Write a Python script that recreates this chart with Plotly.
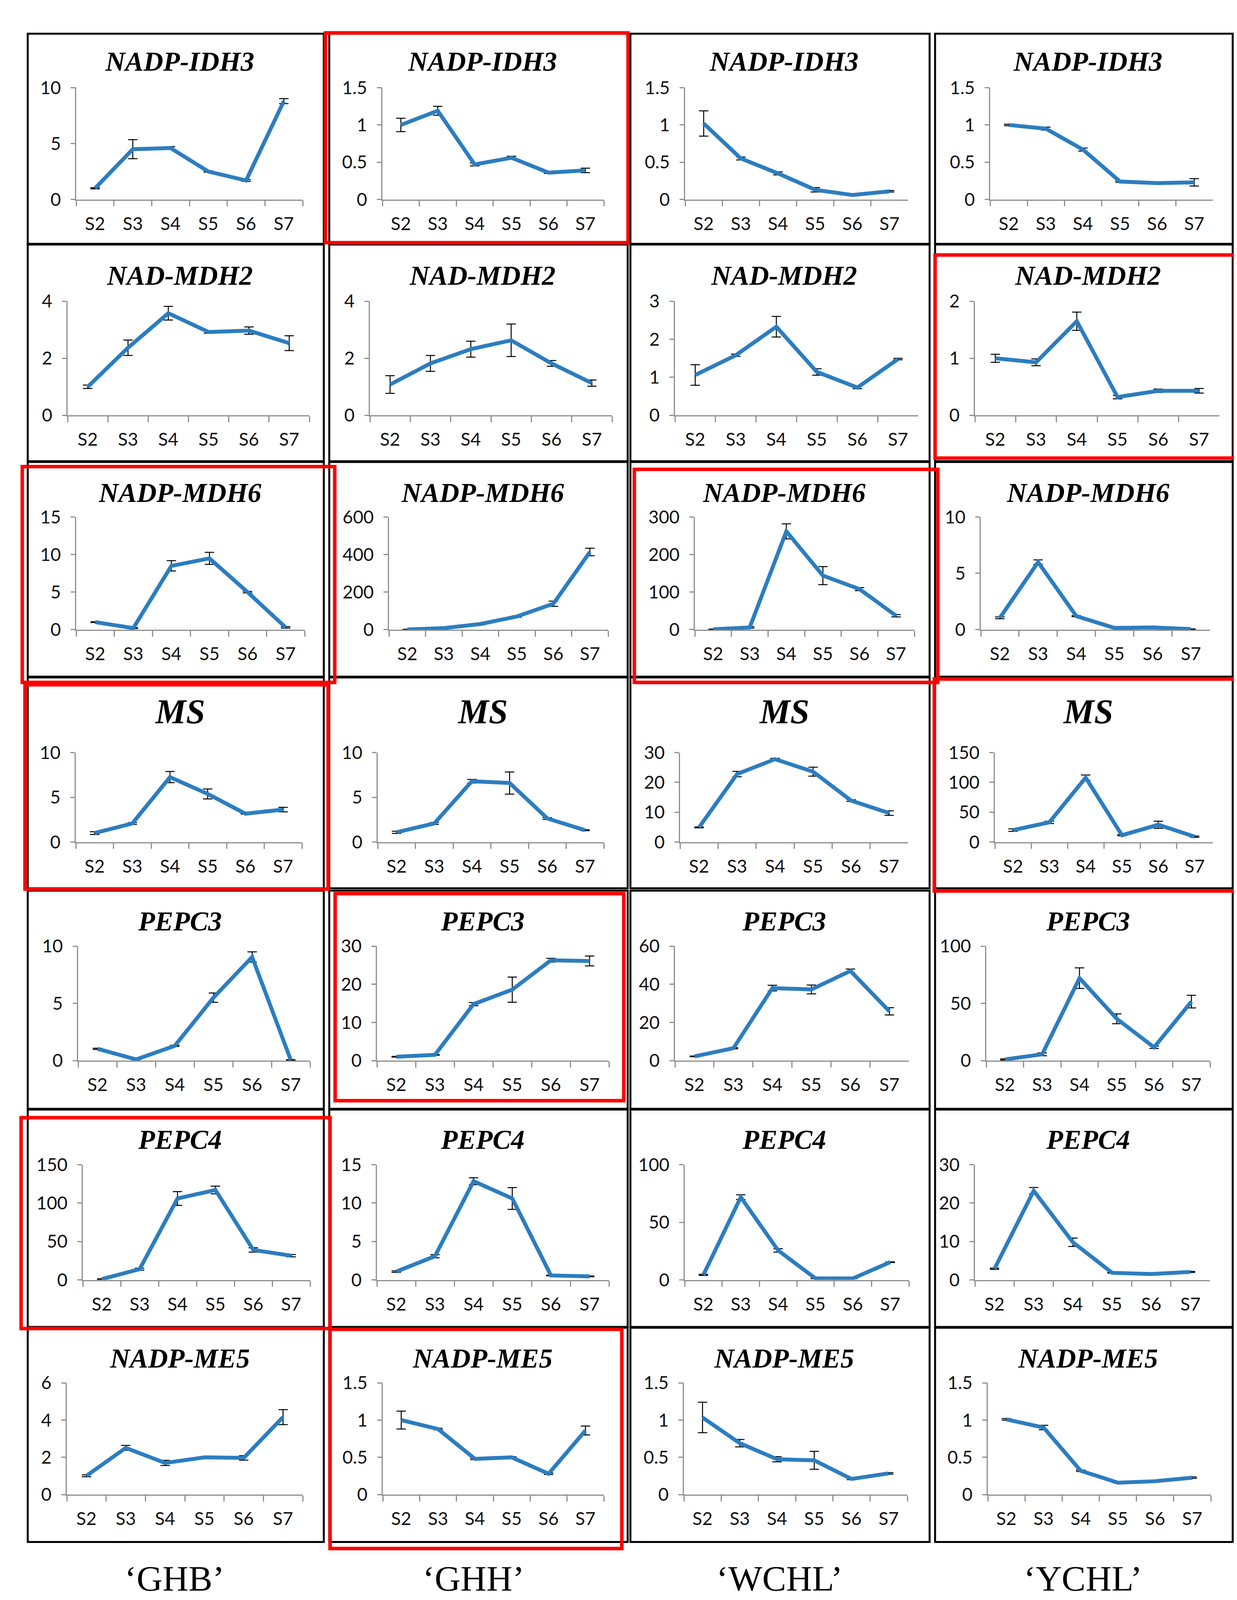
import numpy as np
import plotly.graph_objects as go

# ---------------- DATA ----------------
stages = ["S2", "S3", "S4", "S5", "S6", "S7"]
cultivars = ["‘GHB’", "‘GHH’", "‘WCHL’", "‘YCHL’"]
genes = ["NADP-IDH3", "NAD-MDH2", "NADP-MDH6", "MS", "PEPC3", "PEPC4", "NADP-ME5"]

# mean relative expression, one list per cultivar (GHB, GHH, WCHL, YCHL)
idh3_mean = [[1.0, 4.5, 4.6, 2.5, 1.7, 8.8],
             [1.0, 1.19, 0.47, 0.56, 0.36, 0.39],
             [1.02, 0.55, 0.35, 0.13, 0.06, 0.11],
             [1.0, 0.95, 0.67, 0.24, 0.22, 0.23]]
idh3_err = [[0.05, 0.85, 0.12, 0.06, 0.08, 0.22],
            [0.09, 0.06, 0.02, 0.02, 0.01, 0.03],
            [0.17, 0.02, 0.02, 0.03, 0.005, 0.01],
            [0.01, 0.02, 0.02, 0.01, 0.005, 0.05]]

mdh2_mean = [[1.0, 2.37, 3.58, 2.92, 2.97, 2.53],
             [1.08, 1.82, 2.32, 2.63, 1.82, 1.13],
             [1.06, 1.58, 2.33, 1.14, 0.73, 1.48],
             [1.0, 0.93, 1.65, 0.32, 0.43, 0.43]]
mdh2_err = [[0.06, 0.27, 0.24, 0.04, 0.13, 0.26],
            [0.31, 0.28, 0.28, 0.57, 0.1, 0.11],
            [0.27, 0.03, 0.27, 0.085, 0.03, 0.02],
            [0.07, 0.06, 0.16, 0.03, 0.03, 0.04]]

mdh6_mean = [[1.0, 0.2, 8.5, 9.5, 5.0, 0.3],
             [1.0, 8.0, 30.0, 70.0, 138.0, 414.0],
             [1.0, 6.0, 262.0, 144.0, 108.0, 37.0],
             [1.05, 6.0, 1.2, 0.15, 0.2, 0.05]]
mdh6_err = [[0.05, 0.05, 0.69, 0.8, 0.1, 0.1],
            [1.0, 2.0, 4.0, 4.0, 14.0, 20.0],
            [0.5, 2.0, 20.0, 24.0, 4.0, 3.0],
            [0.08, 0.2, 0.05, 0.02, 0.02, 0.02]]

ms_mean = [[1.0, 2.08, 7.26, 5.38, 3.17, 3.63],
           [1.09, 2.08, 6.8, 6.6, 2.64, 1.32],
           [4.9, 22.8, 27.8, 23.6, 13.9, 9.7],
           [20.0, 33.0, 108.0, 11.5, 29.0, 9.0]]
ms_err = [[0.15, 0.1, 0.63, 0.56, 0.05, 0.25],
          [0.12, 0.1, 0.2, 1.24, 0.1, 0.05],
          [0.15, 0.9, 0.3, 1.5, 0.3, 0.75],
          [2.0, 2.0, 4.5, 1.0, 6.0, 1.0]]

pepc3_mean = [[1.03, 0.1, 1.29, 5.5, 9.05, 0.05],
              [1.0, 1.5, 14.8, 18.6, 26.3, 26.1],
              [2.2, 6.5, 38.0, 37.3, 47.0, 25.8],
              [1.0, 5.5, 72.0, 36.5, 11.6, 51.5]]
pepc3_err = [[0.05, 0.03, 0.05, 0.41, 0.45, 0.03],
             [0.1, 0.1, 0.4, 3.3, 0.5, 1.3],
             [0.2, 0.3, 1.5, 2.3, 1.0, 1.9],
             [0.5, 1.3, 9.0, 4.3, 1.0, 5.5]]

pepc4_mean = [[1.0, 14.0, 106.0, 117.0, 39.0, 31.5],
              [1.08, 3.08, 12.85, 10.6, 0.58, 0.46],
              [4.4, 71.8, 25.6, 1.3, 1.3, 15.4],
              [2.9, 23.2, 9.8, 1.85, 1.54, 2.08]]
pepc4_err = [[0.5, 1.3, 9.0, 5.0, 2.9, 1.5],
             [0.1, 0.2, 0.45, 1.42, 0.05, 0.05],
             [0.5, 2.0, 1.5, 0.2, 0.2, 0.3],
             [0.15, 0.85, 1.1, 0.1, 0.1, 0.15]]

me5_mean = [[1.01, 2.51, 1.7, 2.0, 1.97, 4.16],
            [1.0, 0.88, 0.48, 0.5, 0.28, 0.86],
            [1.035, 0.69, 0.475, 0.46, 0.21, 0.285],
            [1.01, 0.9, 0.32, 0.16, 0.18, 0.227]]
me5_err = [[0.05, 0.13, 0.14, 0.03, 0.12, 0.4],
           [0.12, 0.01, 0.01, 0.01, 0.01, 0.06],
           [0.205, 0.05, 0.035, 0.12, 0.01, 0.01],
           [0.01, 0.03, 0.01, 0.005, 0.005, 0.01]]

# y-axis maximum and tick step for each gene (per cultivar)
y_max = [[10, 1.5, 1.5, 1.5],
         [4, 4, 3, 2],
         [15, 600, 300, 10],
         [10, 10, 30, 150],
         [10, 30, 60, 100],
         [150, 15, 100, 30],
         [6, 1.5, 1.5, 1.5]]
y_step = [[5, 0.5, 0.5, 0.5],
          [2, 2, 1, 1],
          [5, 200, 100, 5],
          [5, 5, 10, 50],
          [5, 10, 20, 50],
          [50, 5, 50, 10],
          [2, 0.5, 0.5, 0.5]]

# highlighted (red-boxed) panels as (row, col)
highlighted = [(0, 1), (1, 3), (2, 0), (2, 2), (3, 0), (3, 3), (4, 1), (5, 0), (6, 1)]

means = [idh3_mean, mdh2_mean, mdh6_mean, ms_mean, pepc3_mean, pepc4_mean, me5_mean]
errs = [idh3_err, mdh2_err, mdh6_err, ms_err, pepc3_err, pepc4_err, me5_err]

# ---------------- LAYOUT GEOMETRY (pixels) ----------------
W, H = 3167, 4159
col_edges = [(63, 821), (835, 1599), (1606, 2372), (2386, 3148)]
row_edges = [(50, 595), (597, 1159), (1161, 1718), (1720, 2267),
             (2273, 2839), (2841, 3405), (3407, 3963)]
plot_y = [(190, 480), (744, 1040), (1304, 1596), (1915, 2147),
          (2417, 2714), (2984, 3283), (3550, 3840)]
title_y = [122, 677, 1241, 1808, 2353, 2919, 3487]
plot_x = [
    [(187, 767), (971, 1538), (1746, 2317), (2527, 3097)],
    [(165, 784), (939, 1559), (1720, 2343), (2488, 3114)],
    [(187, 772), (988, 1549), (1771, 2333), (2503, 3090)],
    [(186, 765), (959, 1538), (1733, 2317), (2539, 3097)],
    [(192, 786), (957, 1551), (1720, 2319), (2517, 3090)],
    [(204, 786), (957, 1551), (1745, 2319), (2488, 3090)],
    [(163, 767), (972, 1538), (1743, 2315), (2521, 3092)],
]
red_boxes = {
    (0, 1): (825, 48, 1600, 592),
    (1, 3): (2386, 624, 3153, 1151),
    (2, 0): (49, 1173, 849, 1733),
    (2, 2): (1616, 1180, 2393, 1733),
    (3, 0): (56, 1739, 832, 2269),
    (3, 3): (2384, 1724, 3160, 2274),
    (4, 1): (850, 2281, 1589, 2818),
    (5, 0): (46, 2862, 837, 3409),
    (6, 1): (837, 3411, 1584, 3980),
}
label_x = [439, 1204, 1988, 2764]
label_y = 4058

def px(x):
    return x / W

def py(y):
    return 1 - y / H

LINE_BLUE = "#2C7DC0"
AXIS_GRAY = "#8E8E8E"
TICK_FONT = dict(family="Liberation Sans Narrow, Lato, Carlito, sans-serif", size=46, color="#111111")

fig = go.Figure()
layout = dict(
    width=W, height=H, margin=dict(l=0, r=0, t=0, b=0),
    paper_bgcolor="white", plot_bgcolor="rgba(0,0,0,0)", showlegend=False,
)
shapes = []
annotations = []

n = 0
for r, gene in enumerate(genes):
    for c in range(4):
        n += 1
        xa = "x" if n == 1 else f"x{n}"
        ya = "y" if n == 1 else f"y{n}"
        xk = "xaxis" if n == 1 else f"xaxis{n}"
        yk = "yaxis" if n == 1 else f"yaxis{n}"
        x0, x1 = plot_x[r][c]
        y0, y1 = plot_y[r]
        ymax = y_max[r][c]
        step = y_step[r][c]
        tv = list(np.round(np.arange(0, ymax + step / 2, step), 6))
        tt = [("%g" % v) for v in tv]

        fig.add_trace(go.Scatter(
            x=stages, y=means[r][c], xaxis=xa, yaxis=ya, mode="lines",
            line=dict(color=LINE_BLUE, width=10),
            error_y=dict(type="data", array=errs[r][c], visible=True,
                         color="black", thickness=2.5, width=12),
            cliponaxis=False, hoverinfo="skip",
        ))
        layout[xk] = dict(
            domain=[px(x0), px(x1)], anchor=ya, type="category",
            categoryorder="array", categoryarray=stages,
            range=[-0.5, 5.5], showline=True, linecolor=AXIS_GRAY, linewidth=2.5,
            ticks="outside", tickson="boundaries", ticklen=15, tickwidth=2.5,
            tickcolor=AXIS_GRAY, showgrid=False, zeroline=False,
            tickfont=TICK_FONT, ticklabelstandoff=20, fixedrange=True,
        )
        layout[yk] = dict(
            domain=[py(y1), py(y0)], anchor=xa, range=[0, ymax],
            tickvals=tv, ticktext=tt, showline=True, linecolor=AXIS_GRAY,
            linewidth=2.5, ticks="outside", ticklen=11, tickwidth=2.5,
            tickcolor=AXIS_GRAY, showgrid=False, zeroline=False,
            tickfont=TICK_FONT, ticklabelstandoff=16, fixedrange=True,
        )

        # panel title
        cx0, cx1 = col_edges[c]
        tsize = 88 if gene == "MS" else 70
        annotations.append(dict(
            text=f"<b><i>{gene}</i></b>", x=px((cx0 + cx1) / 2 + 10), y=py(title_y[r]),
            xref="paper", yref="paper", showarrow=False, xanchor="center", yanchor="middle",
            font=dict(family="Liberation Serif, Times New Roman, serif", size=tsize, color="black"),
        ))
        # black cell border
        ry0, ry1 = row_edges[r]
        shapes.append(dict(type="rect", xref="paper", yref="paper",
                           x0=px(cx0), x1=px(cx1), y0=py(ry1), y1=py(ry0),
                           line=dict(color="black", width=5)))

# red highlight boxes
for key in highlighted:
    bx0, by0, bx1, by1 = red_boxes[key]
    shapes.append(dict(type="rect", xref="paper", yref="paper",
                       x0=px(bx0), x1=px(bx1), y0=py(by1), y1=py(by0),
                       line=dict(color="#FF0000", width=9)))

# cultivar labels under each column
for c, lab in enumerate(cultivars):
    annotations.append(dict(
        text=lab, x=px(label_x[c]), y=py(label_y), xref="paper", yref="paper",
        showarrow=False, xanchor="center", yanchor="middle",
        font=dict(family="Liberation Serif, Times New Roman, serif", size=92, color="black"),
    ))

layout["shapes"] = shapes
layout["annotations"] = annotations
fig.update_layout(**layout)
fig.write_html("out.html")
